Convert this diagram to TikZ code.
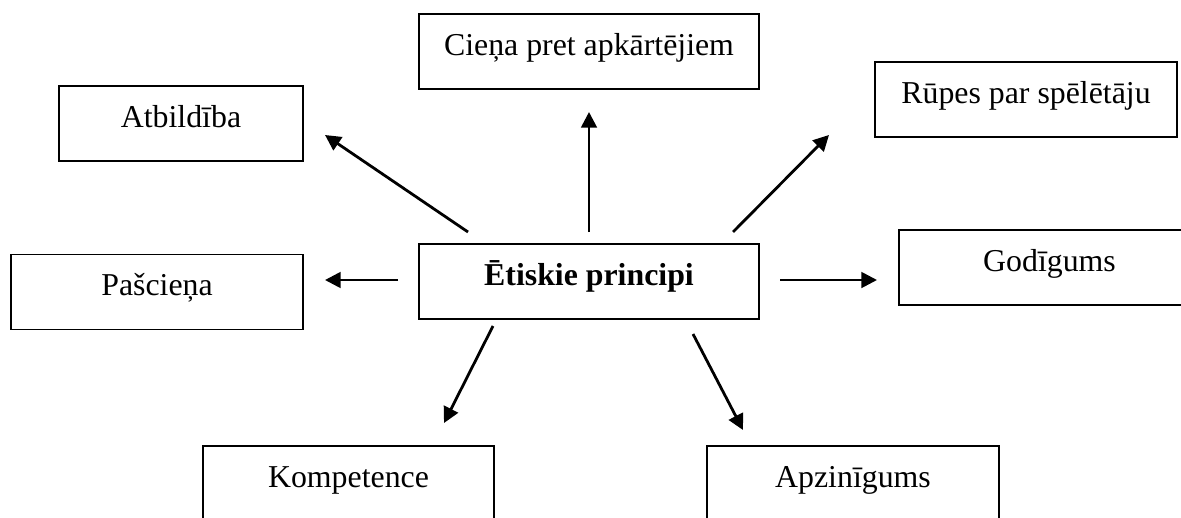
\documentclass[tikz,border=0pt]{standalone}
\usepackage{fontspec}
\setmainfont{Liberation Serif}
\usetikzlibrary{arrows.meta,positioning}

\begin{document}
\begin{tikzpicture}[
    x=0.377pt, y=-0.377pt,
    ethbox/.style={rectangle, draw, line width=0.45pt, inner sep=0pt, minimum height=28.3pt,
      text height=8pt, text depth=5.36pt, font=\fontsize{12}{14}\selectfont},
    ptr/.style={line width=1.05pt, -{Triangle[length=5.9pt,width=5.9pt]}}
  ]
    \useasboundingbox (0,0) rectangle (1181,517);
    \clip (0,0) rectangle (1181,517);

    % centre
    \node[ethbox, minimum width=128.2pt] (etiskie) at (589,281.5) {\textbf{Ētiskie principi}};

    % surrounding principles
    \node[ethbox, minimum width=92.0pt]  (atbildiba) at (181,123.5)   {Atbildība};
    \node[ethbox, minimum width=128.2pt] (ciena)     at (589,51.5)    {Cieņa pret apkārtējiem};
    \node[ethbox, minimum width=113.9pt] (rupes)     at (1026,99.5)   {Rūpes par spēlētāju};
    \node[ethbox, minimum width=113.5pt, text width=105.9pt, align=center]
                                          (godigums)  at (1049.5,267.5) {Godīgums};
    \node[ethbox, minimum width=110.1pt] (pasciena)  at (157,292)     {Pašcieņa};
    \node[ethbox, minimum width=109.7pt] (kompet)    at (348.5,483.5) {Kompetence};
    \node[ethbox, minimum width=110.1pt] (apzin)     at (853,483.5)   {Apzinīgums};

    % arrow ends
    \coordinate (atb-s) at (468,232);  \coordinate (atb-e) at (325,135);
    \coordinate (cie-s) at (589,232);  \coordinate (cie-e) at (589,112);
    \coordinate (rup-s) at (733,232);  \coordinate (rup-e) at (829,135);
    \coordinate (pas-s) at (398,280);  \coordinate (pas-e) at (325,280);
    \coordinate (god-s) at (780,280);  \coordinate (god-e) at (877,280);
    \coordinate (kom-s) at (493,326);  \coordinate (kom-e) at (444,423);
    \coordinate (apz-s) at (693,334);  \coordinate (apz-e) at (743,430);

    \draw[ptr] (atb-s) -- (atb-e);
    \draw[ptr] (cie-s) -- (cie-e);
    \draw[ptr] (rup-s) -- (rup-e);
    \draw[ptr] (pas-s) -- (pas-e);
    \draw[ptr] (god-s) -- (god-e);
    \draw[ptr] (kom-s) -- (kom-e);
    \draw[ptr] (apz-s) -- (apz-e);
\end{tikzpicture}
\end{document}
